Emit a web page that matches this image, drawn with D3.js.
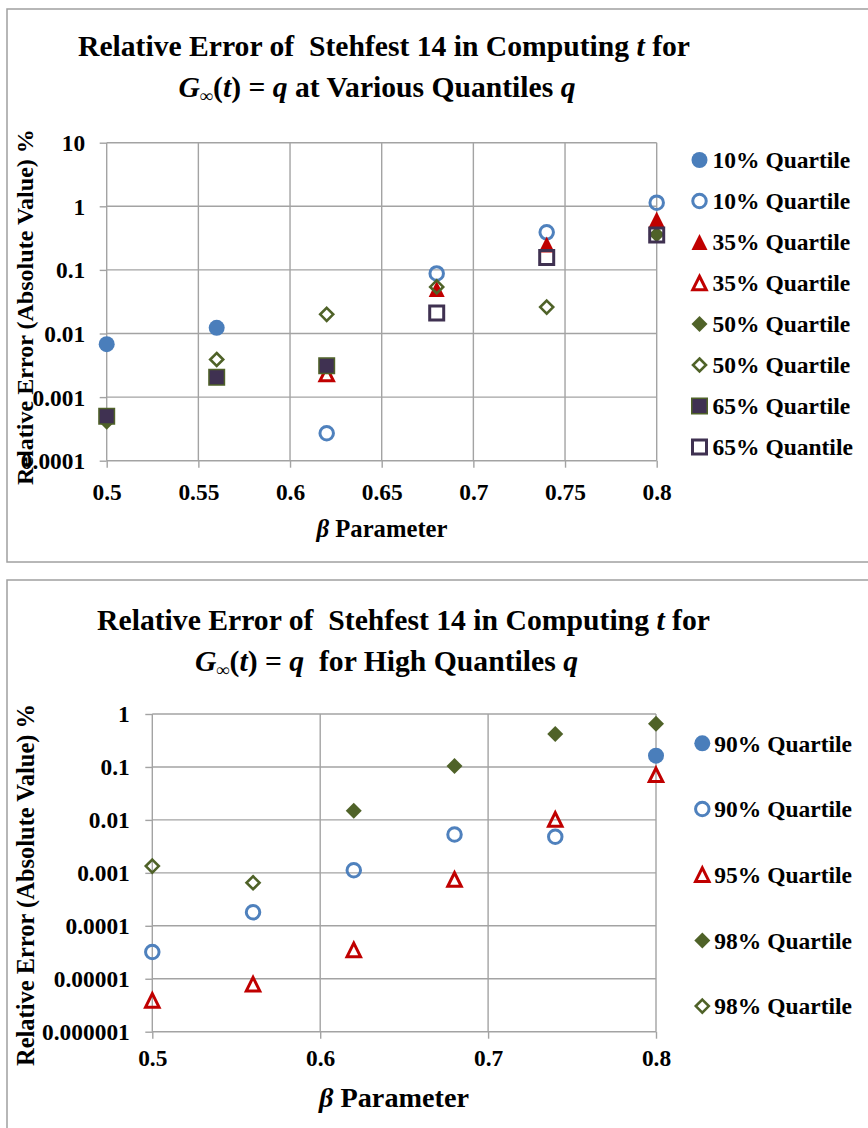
<!DOCTYPE html>
<html>
<head>
<meta charset="utf-8">
<script src="https://cdn.jsdelivr.net/npm/d3@7"></script>
<style>
  html, body { margin: 0; padding: 0; background: #fff; }
  svg { display: block; font-family: "Liberation Serif", "Times New Roman", serif; font-weight: bold; }
</style>
</head>
<body>
<svg id="chart" width="868" height="1128"></svg>
<script>
// β parameter values at which the error was evaluated
const betaValues = [0.5, 0.56, 0.62, 0.68, 0.74, 0.8];

// Upper panel: relative error (%) at quantiles 10%–65%
const q10Solid  = [0.0068, 0.0123, null, null, null, null];
const q10Open   = [null, null, 0.00027, 0.088, 0.39, 1.14];
const q35Solid  = [null, null, null, 0.05, 0.25, 0.62];
const q35Open   = [null, null, 0.0023, null, null, null];
const q50Solid  = [0.00041, null, null, null, null, 0.36];
const q50Open   = [null, 0.0039, 0.020, 0.054, 0.026, null];
const q65Solid  = [0.0005, 0.00205, 0.0031, null, null, null];
const q65Open   = [null, null, null, 0.021, 0.156, 0.354];

const topXTicks = [0.5, 0.55, 0.6, 0.65, 0.7, 0.75, 0.8];
const topXTickLabels = ["0.5", "0.55", "0.6", "0.65", "0.7", "0.75", "0.8"];
const topYTicks = [0.0001, 0.001, 0.01, 0.1, 1, 10];
const topYTickLabels = ["0.0001", "0.001", "0.01", "0.1", "1", "10"];
const topLegendLabels = ["10% Quartile", "10% Quartile", "35% Quartile", "35% Quartile",
                         "50% Quartile", "50% Quartile", "65% Quartile", "65% Quantile"];

// Lower panel: relative error (%) at high quantiles
const q90Solid  = [null, null, null, null, null, 0.163];
const q90Open   = [0.000032, 0.00018, 0.00112, 0.0053, 0.0048, null];
const q95Open   = [0.0000039, 0.0000079, 0.000035, 0.00075, 0.0102, 0.071];
const q98Solid  = [null, null, 0.0149, 0.104, 0.42, 0.656];
const q98Open   = [0.00134, 0.00065, null, null, null, null];

const bottomXTicks = [0.5, 0.6, 0.7, 0.8];
const bottomXTickLabels = ["0.5", "0.6", "0.7", "0.8"];
const bottomYTicks = [0.000001, 0.00001, 0.0001, 0.001, 0.01, 0.1, 1];
const bottomYTickLabels = ["0.000001", "0.00001", "0.0001", "0.001", "0.01", "0.1", "1"];
const bottomLegendLabels = ["90% Quartile", "90% Quartile", "95% Quartile", "98% Quartile", "98% Quartile"];

// ---------- marker styles ----------
const MARK = {
  blueSolid:   { shape: "circle",   size: 16,   fill: "#4a7ebb", stroke: "none",    sw: 0 },
  blueOpen:    { shape: "circle",   size: 13.5, fill: "none",    stroke: "#4f81bd", sw: 3 },
  redSolid:    { shape: "triangle", size: 16,   fill: "#c00000", stroke: "none",    sw: 0 },
  redOpen:     { shape: "triangle", size: 13.5, fill: "none",    stroke: "#c00000", sw: 3 },
  greenSolid:  { shape: "diamond",  size: 16,   fill: "#4f6228", stroke: "none",    sw: 0 },
  greenOpen:   { shape: "diamond",  size: 13,   fill: "none",    stroke: "#4f6228", sw: 2.6 },
  purpleSolid: { shape: "square",   size: 15.5, fill: "#3f3151", stroke: "#4f6228", sw: 1.5 },
  purpleOpen:  { shape: "square",   size: 14,   fill: "none",    stroke: "#3f3151", sw: 3 }
};

function markerPath(shape, s) {
  const h = s / 2;
  switch (shape) {
    case "circle":   return d3.symbol(d3.symbolCircle, Math.PI * h * h)();
    case "square":   return `M${-h},${-h}H${h}V${h}H${-h}Z`;
    case "triangle": return `M0,${-h}L${h},${h}L${-h},${h}Z`;
    case "diamond":  return `M0,${-h}L${h},0L0,${h}L${-h},0Z`;
  }
}

function drawMarker(g, st, x, y) {
  g.append("path")
    .attr("d", markerPath(st.shape, st.size))
    .attr("transform", `translate(${x},${y})`)
    .attr("fill", st.fill)
    .attr("stroke", st.stroke)
    .attr("stroke-width", st.sw)
    .attr("stroke-linejoin", "miter");
}

const svg = d3.select("#chart");
const GRID = "#a3a3a3";

// Scale a text element's font so its rendered width equals `target`
function fitWidth(sel, target) {
  const w = sel.node().getComputedTextLength();
  const fs = parseFloat(sel.attr("font-size"));
  sel.attr("font-size", (fs * target / w).toFixed(2));
  return fs * target / w;
}

function titleLine(g, x, y, parts, fs) {
  const t = g.append("text")
    .attr("x", x).attr("y", y)
    .attr("text-anchor", "middle")
    .attr("font-size", fs)
    .style("white-space", "pre");
  parts.forEach(p => {
    const ts = t.append("tspan").text(p.t);
    if (p.i) ts.attr("font-style", "italic");
    if (p.sub) ts.attr("font-size", "0.62em").attr("dy", 5);
    if (p.up) ts.attr("dy", -5);
  });
  return t;
}

function drawPanel(cfg) {
  const g = svg.append("g");

  // chart frame
  g.append("rect")
    .attr("x", cfg.frame[0]).attr("y", cfg.frame[1])
    .attr("width", cfg.frame[2]).attr("height", cfg.frame[3])
    .attr("fill", "#fff").attr("stroke", "#a0a0a0").attr("stroke-width", 1.5);

  const x = d3.scaleLinear().domain(cfg.xDomain).range([cfg.plot.x0, cfg.plot.x1]);
  const y = d3.scaleLog().domain(cfg.yDomain).range([cfg.plot.y1, cfg.plot.y0]);

  // gridlines
  const grid = g.append("g").attr("stroke", GRID).attr("stroke-width", 1.4);
  cfg.xTicks.forEach(v => grid.append("line")
    .attr("x1", x(v)).attr("x2", x(v)).attr("y1", y(cfg.yDomain[0])).attr("y2", y(cfg.yDomain[1])));
  cfg.yTicks.forEach(v => grid.append("line")
    .attr("y1", y(v)).attr("y2", y(v)).attr("x1", x(cfg.xDomain[0])).attr("x2", x(cfg.xDomain[1])));

  // axes (ticks outward, labels)
  const yAxis = d3.axisLeft(y).tickValues(cfg.yTicks)
    .tickFormat((d, i) => cfg.yLabels[i]).tickSizeInner(7).tickSizeOuter(0).tickPadding(cfg.yPad);
  const ya = g.append("g").attr("transform", `translate(${cfg.plot.x0},0)`).call(yAxis);
  const xAxis = d3.axisBottom(x).tickValues(cfg.xTicks)
    .tickFormat((d, i) => cfg.xLabels[i]).tickSizeInner(7).tickSizeOuter(0);
  const xa = g.append("g").attr("transform", `translate(0,${cfg.plot.y1})`).call(xAxis);
  [ya, xa].forEach(a => {
    a.attr("font-family", null).attr("font-size", cfg.tickFont);
    a.select(".domain").remove();
    a.selectAll(".tick line").attr("stroke", GRID).attr("stroke-width", 1.4);
    a.selectAll("text").attr("fill", "#000").style("font-size", cfg.tickFont + "px")
      .style("font-weight", "bold");
  });
  ya.selectAll("text").attr("dy", "0.34em");
  xa.selectAll("text").attr("dy", null).attr("y", cfg.xLabelOff).attr("dominant-baseline", "central");

  // series
  const mg = g.append("g");
  cfg.series.forEach(s => {
    betaValues.forEach((b, i) => {
      const v = s.values[i];
      if (v == null) return;
      drawMarker(mg, MARK[s.style], x(b), y(v));
    });
  });

  // legend
  const lg = g.append("g");
  cfg.series.forEach((s, i) => {
    const ly = cfg.legend.y0 + i * cfg.legend.dy;
    drawMarker(lg, MARK[s.style], cfg.legend.mx, ly);
    lg.append("text")
      .attr("x", cfg.legend.tx).attr("y", ly).attr("dy", "0.35em")
      .attr("font-size", cfg.legendFont)
      .text(cfg.legendLabels[i]);
  });

  // titles
  const l1 = titleLine(g, cfg.title.cx1, cfg.title.y1, cfg.title.line1, 26);
  const fs = fitWidth(l1, cfg.title.w1);
  titleLine(g, cfg.title.cx2, cfg.title.y2, cfg.title.line2, fs);

  // x axis title
  const xt = g.append("text")
    .attr("x", cfg.xTitle.cx).attr("y", cfg.xTitle.y)
    .attr("text-anchor", "middle").attr("font-size", 22);
  xt.append("tspan").attr("font-style", "italic").text("β");
  xt.append("tspan").text(" Parameter");
  fitWidth(xt, cfg.xTitle.w);

  // y axis title
  const yt = g.append("text")
    .attr("transform", `translate(${cfg.yTitle.x},${cfg.yTitle.cy}) rotate(-90)`)
    .attr("text-anchor", "middle").attr("dy", "0.35em").attr("font-size", 20)
    .text("Relative Error (Absolute Value) %");
  fitWidth(yt, cfg.yTitle.w);
}

drawPanel({
  frame: [7, 9, 880, 553],
  plot: { x0: 106.7, x1: 656.7, y0: 142.7, y1: 460.7 },
  xDomain: [0.5, 0.8], yDomain: [0.0001, 10],
  xTicks: topXTicks, xLabels: topXTickLabels,
  yTicks: topYTicks, yLabels: topYTickLabels,
  tickFont: 23.4, yPad: 14.5, xLabelOff: 31,
  series: [
    { values: q10Solid, style: "blueSolid" },
    { values: q10Open,  style: "blueOpen" },
    { values: q35Solid, style: "redSolid" },
    { values: q35Open,  style: "redOpen" },
    { values: q50Solid, style: "greenSolid" },
    { values: q50Open,  style: "greenOpen" },
    { values: q65Solid, style: "purpleSolid" },
    { values: q65Open,  style: "purpleOpen" }
  ],
  legendLabels: topLegendLabels,
  legend: { mx: 699.5, tx: 712.5, y0: 160, dy: 41 },
  legendFont: 23.5,
  title: {
    cx1: 384, y1: 56, w1: 612,
    cx2: 377, y2: 97,
    line1: [{ t: "Relative Error of  Stehfest 14 in Computing " }, { t: "t", i: true }, { t: " for" }],
    line2: [{ t: "G", i: true }, { t: "∞", sub: true }, { t: "(", up: true }, { t: "t", i: true }, { t: ")" },
            { t: " = " }, { t: "q", i: true }, { t: " at Various Quantiles " }, { t: "q", i: true }]
  },
  xTitle: { cx: 382, y: 537, w: 131 },
  yTitle: { x: 25, cy: 307, w: 356 }
});

drawPanel({
  frame: [7, 580, 880, 600],
  plot: { x0: 152.3, x1: 656, y0: 714, y1: 1031.7 },
  xDomain: [0.5, 0.8], yDomain: [0.000001, 1],
  xTicks: bottomXTicks, xLabels: bottomXTickLabels,
  yTicks: bottomYTicks, yLabels: bottomYTickLabels,
  tickFont: 23.4, yPad: 15.5, xLabelOff: 26,
  series: [
    { values: q90Solid, style: "blueSolid" },
    { values: q90Open,  style: "blueOpen" },
    { values: q95Open,  style: "redOpen" },
    { values: q98Solid, style: "greenSolid" },
    { values: q98Open,  style: "greenOpen" }
  ],
  legendLabels: bottomLegendLabels,
  legend: { mx: 702.3, tx: 714.3, y0: 743.3, dy: 65.7 },
  legendFont: 23.5,
  title: {
    cx1: 403.5, y1: 630, w1: 613,
    cx2: 386.5, y2: 671,
    line1: [{ t: "Relative Error of  Stehfest 14 in Computing " }, { t: "t", i: true }, { t: " for" }],
    line2: [{ t: "G", i: true }, { t: "∞", sub: true }, { t: "(", up: true }, { t: "t", i: true }, { t: ")" },
            { t: " = " }, { t: "q", i: true }, { t: "  for High Quantiles " }, { t: "q", i: true }]
  },
  xTitle: { cx: 394, y: 1107, w: 150 },
  yTitle: { x: 25, cy: 885, w: 362 }
});
</script>
</body>
</html>
